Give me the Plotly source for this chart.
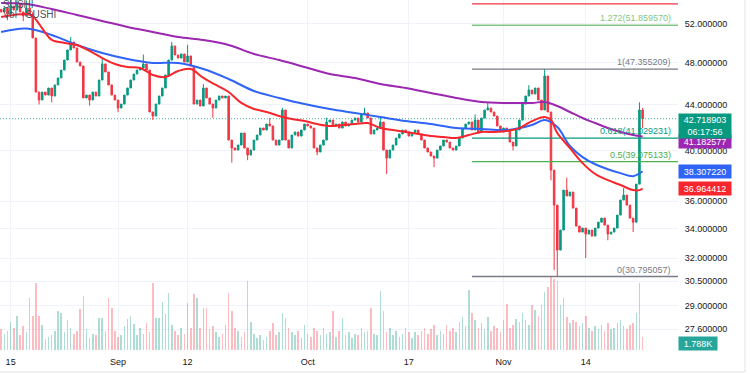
import math
import pandas as pd
import plotly.graph_objects as go

# ---------------- data ----------------
dates = pd.date_range("2022-08-13 12:00", periods=204, freq="12h")

closes = [
    53.31, 53.75, 53.09, 53.97, 53.53, 54.20, 53.31, 52.87, 53.75, 53.09,
    50.51, 45.15, 44.41, 45.15, 44.87, 45.53, 44.78, 45.82, 46.49, 47.26,
    48.25, 49.27, 50.09, 49.47, 48.05, 47.66, 44.60, 44.87, 44.41, 45.15,
    44.78, 46.29, 47.86, 47.07, 45.82, 44.87, 44.41, 43.68, 44.04, 44.87,
    45.53, 46.29, 46.87, 47.26, 47.46, 47.86, 47.26, 43.32, 42.96, 44.04,
    44.78, 45.53, 46.78, 48.25, 49.68, 48.76, 48.45, 48.86, 48.05, 48.66,
    47.66, 44.04, 44.41, 43.86, 45.53, 44.60, 44.04, 43.68, 44.41, 44.78,
    44.60, 44.78, 40.87, 40.20, 40.03, 40.45, 41.47, 40.20, 39.62, 40.03,
    40.87, 41.30, 41.90, 41.73, 42.25, 42.08, 40.87, 40.45, 40.87, 43.50,
    40.87, 40.20, 41.30, 41.56, 41.21, 41.73, 42.25, 42.08, 41.90, 40.20,
    39.87, 40.45, 40.87, 42.43, 42.60, 42.08, 42.25, 41.90, 42.43, 42.08,
    42.25, 42.60, 42.78, 42.43, 43.14, 43.23, 42.78, 41.39, 41.73, 41.90,
    42.43, 40.03, 39.37, 40.03, 40.45, 41.04, 41.39, 41.73, 41.56, 41.21,
    41.47, 41.73, 41.39, 40.87, 40.20, 39.87, 39.54, 39.37, 40.03, 40.37,
    40.87, 40.70, 40.20, 40.03, 40.37, 41.04, 41.90, 42.25, 42.43, 41.73,
    42.60, 41.56, 42.78, 43.50, 43.68, 43.32, 42.96, 42.08, 41.56, 41.90,
    41.73, 40.70, 40.37, 41.73, 42.60, 44.04, 44.78, 45.34, 44.97, 45.53,
    44.41, 43.50, 46.68, 43.32, 38.40, 35.71, 32.53, 33.91, 36.84, 36.39,
    36.69, 35.49, 34.19, 33.77, 34.05, 33.63, 33.91, 33.49, 34.05, 34.47,
    34.76, 34.26, 33.63, 33.77, 34.05, 34.98, 36.09, 36.46, 35.71, 34.76,
    34.47, 37.30, 43.50, 42.718903,
]
first_open = 53.60

high_wicks = {3: 54.9, 5: 55.0, 8: 54.6, 10: 53.3, 22: 50.6, 32: 48.5, 45: 48.8,
              54: 50.1, 59: 49.8, 64: 45.9, 85: 42.8, 89: 43.7, 103: 42.8,
              115: 43.7, 120: 42.8, 150: 43.1, 154: 44.2, 167: 45.8,
              172: 47.355209, 179: 37.8, 197: 37.0, 202: 44.2, 203: 43.68}
low_wicks = {2: 52.4, 7: 52.3, 12: 44.0, 16: 44.2, 28: 43.9, 37: 43.3, 48: 42.6,
             67: 42.8, 73: 39.0, 78: 39.2, 100: 39.6, 122: 38.08, 137: 38.64,
             162: 40.0, 174: 37.6, 175: 31.2, 176: 30.795057, 185: 32.0,
             192: 33.2, 200: 33.77, 203: 41.9}

volumes = [  # thousands
    2.8, 2.2, 2.6, 3.8, 3.0, 4.5, 2.0, 3.2, 2.4, 7.0,
    4.5, 9.0, 4.5, 3.3, 1.5, 1.8, 2.0, 2.6, 5.2, 5.0,
    2.4, 4.0, 3.0, 2.2, 2.6, 5.5, 7.3, 2.8, 1.6, 2.2,
    2.0, 4.3, 4.3, 2.5, 7.0, 5.6, 2.6, 1.8, 2.0, 3.2,
    4.2, 4.6, 3.5, 2.0, 3.0, 2.2, 3.6, 2.4, 9.0, 4.3,
    4.3, 6.5, 4.8, 7.6, 3.4, 2.6, 2.0, 3.0, 2.2, 6.3,
    3.0, 7.5, 7.0, 3.0, 5.6, 5.6, 2.8, 3.2, 2.4, 1.8,
    2.2, 3.4, 7.7, 5.2, 3.0, 2.6, 1.8, 2.4, 9.2, 3.8,
    2.2, 1.6, 2.0, 1.4, 1.8, 2.6, 3.6, 2.0, 2.4, 5.0,
    4.3, 3.0, 2.4, 2.0, 2.6, 1.6, 3.4, 2.2, 1.8, 3.0,
    2.6, 2.0, 3.0, 2.2, 2.4, 5.2, 1.8, 2.6, 4.3, 2.0,
    2.4, 1.6, 2.2, 2.0, 3.0, 2.4, 2.6, 5.6, 2.2, 2.0,
    7.9, 5.2, 2.4, 3.0, 2.0, 2.6, 1.8, 2.2, 3.0, 2.4,
    1.6, 2.4, 2.0, 2.6, 3.0, 2.2, 2.8, 3.4, 2.0, 2.6,
    2.2, 3.4, 2.6, 3.0, 2.4, 3.8, 4.4, 3.2, 8.0, 5.0,
    4.0, 3.0, 3.6, 2.8, 4.4, 2.6, 3.2, 3.0, 2.4, 4.0,
    6.2, 3.0, 3.4, 4.2, 3.8, 5.0, 4.0, 3.4, 6.0, 5.4,
    4.6, 6.0, 7.8, 8.4, 10.0, 9.6, 9.2, 6.0, 7.0, 4.4,
    3.6, 4.0, 3.8, 3.2, 3.6, 4.6, 3.0, 2.6, 3.2, 2.8,
    3.4, 2.6, 3.6, 2.8, 3.0, 3.6, 4.0, 3.2, 2.8, 3.4,
    3.6, 5.0, 9.0, 1.788,
]

# moving averages, read at sampled candles
ma_long_idx = [0, 8, 16, 24, 32, 40, 48, 56, 64, 72, 80, 88, 96, 104, 112, 120,
               128, 136, 144, 152, 160, 168, 172, 176, 180, 184, 188, 192, 196, 200, 203]
ma_purple = [54.32, 54.20, 53.63, 52.98, 52.33, 51.68, 51.15, 50.62, 50.30, 49.78,
             48.86, 48.25, 47.56, 46.87, 46.49, 45.91, 45.53, 45.06, 44.60, 44.23,
             44.14, 44.14, 44.23, 43.86, 43.32, 42.78, 42.34, 41.90, 41.56, 41.30, 41.182577]
ma_blue = [51.15, 51.52, 50.83, 49.78, 48.96, 48.35, 47.96, 47.96, 47.36, 46.39,
           45.25, 44.60, 44.04, 43.59, 43.23, 42.87, 42.51, 42.25, 41.90, 41.82,
           41.73, 42.16, 42.60, 41.99, 40.37, 39.45, 38.87, 38.47, 38.16, 37.92, 38.307220]
ma_red_idx = [0, 4, 8, 10, 12, 14, 16, 20, 24, 28, 32, 36, 40, 44, 48, 52, 56, 60,
              64, 68, 72, 76, 80, 84, 88, 92, 96, 100, 104, 108, 112, 116, 120, 124,
              128, 132, 136, 140, 144, 148, 152, 156, 160, 164, 168, 172, 174, 176,
              180, 184, 188, 192, 196, 200, 202, 203]
ma_red = [52.76, 52.98, 53.09, 52.87, 52.00, 51.05, 50.30, 49.99, 49.78, 49.17,
          48.45, 47.86, 47.56, 47.46, 46.78, 46.58, 47.17, 47.36, 46.49, 45.82,
          45.15, 44.14, 43.59, 43.32, 42.96, 42.69, 42.51, 42.25, 42.08, 42.16,
          42.25, 42.34, 41.90, 41.73, 41.56, 41.39, 41.21, 41.13, 41.04, 41.30,
          41.56, 41.56, 41.64, 41.90, 42.51, 42.87, 42.60, 41.47, 40.20, 38.96,
          38.09, 37.61, 37.23, 36.84, 36.84, 36.964412]

fib_levels = [0, 0.5, 0.618, 1, 1.272, 1.414]
fib_prices = [30.795057, 39.075133, 41.029231, 47.355209, 51.859570, 54.210000]
fib_colors = ["#787b86", "#4caf50", "#089981", "#787b86", "#81c784", "#f23645"]
fib_start = "2022-10-27 00:00"

last_price = 42.718903
countdown = "06:17:56"
last_volume_label = "1.788K"

price_ticks = [52, 48, 44, 40, 36, 34, 32, 30.5, 29, 27.6]
date_ticks = ["2022-08-15", "2022-09-01", "2022-09-12", "2022-10-01",
              "2022-10-17", "2022-11-01", "2022-11-14"]
date_labels = ["15", "Sep", "12", "Oct", "17", "Nov", "14"]

# ---------------- styling ----------------
GREEN = "#089981"
RED = "#f23645"
MA_RED = "#f7262d"
MA_BLUE = "#2f64f6"
MA_PURPLE = "#9c27b0"
X_RANGE = ["2022-08-13 07:40", "2022-11-28 14:24"]
Y_RANGE = [math.log10(26.44), math.log10(54.65)]

opens = [first_open] + closes[:-1]
highs = [max(o, c) for o, c in zip(opens, closes)]
lows = [min(o, c) for o, c in zip(opens, closes)]
for k, v in high_wicks.items():
    highs[k] = max(highs[k], v)
for k, v in low_wicks.items():
    lows[k] = min(lows[k], v)

vol_colors = ["rgba(8,153,129,0.33)" if c >= o else "rgba(242,54,69,0.33)"
              for o, c in zip(opens, closes)]

fig = go.Figure()

fig.add_trace(go.Bar(x=dates, y=volumes, marker_color=vol_colors,
                     marker_line_width=0, width=12 * 3600 * 1000 * 0.5,
                     yaxis="y", hoverinfo="skip"))

# current price dotted line
fig.add_trace(go.Scatter(x=X_RANGE, y=[last_price, last_price], mode="lines",
                         line=dict(color="rgba(8,153,129,0.75)", width=1, dash="1px,2px"),
                         yaxis="y2", hoverinfo="skip"))

# fib lines
for lvl, p, col in zip(fib_levels, fib_prices, fib_colors):
    fig.add_trace(go.Scatter(x=[fib_start, X_RANGE[1]], y=[p, p], mode="lines",
                             line=dict(color=col, width=1.3), yaxis="y2",
                             hoverinfo="skip"))

fig.add_trace(go.Candlestick(
    x=dates, open=opens, high=highs, low=lows, close=closes, yaxis="y2",
    increasing=dict(line=dict(color=GREEN, width=1), fillcolor=GREEN),
    decreasing=dict(line=dict(color=RED, width=1), fillcolor=RED),
    whiskerwidth=0, hoverinfo="skip"))

fig.add_trace(go.Scatter(x=[dates[i] for i in ma_long_idx], y=ma_purple, mode="lines",
                         line=dict(color=MA_PURPLE, width=2, shape="spline"), yaxis="y2"))
fig.add_trace(go.Scatter(x=[dates[i] for i in ma_long_idx], y=ma_blue, mode="lines",
                         line=dict(color=MA_BLUE, width=2, shape="spline"), yaxis="y2"))
fig.add_trace(go.Scatter(x=[dates[i] for i in ma_red_idx], y=ma_red, mode="lines",
                         line=dict(color=MA_RED, width=2, shape="spline"), yaxis="y2"))

annotations = []
# fib labels
for lvl, p, col in zip(fib_levels, fib_prices, fib_colors):
    if lvl == 1.414:
        continue
    annotations.append(dict(xref="paper", yref="y2", x=0.993, y=math.log10(p),
                            xanchor="right", yanchor="bottom", showarrow=False,
                            text=f"{lvl:g}({p:.6f})",
                            font=dict(size=9, color=col, family="Liberation Sans")))

def price_box(value, text, color, yshift=0, height=11, yanchor="middle"):
    return dict(xref="paper", yref="y2", x=1.0, y=math.log10(value), xanchor="left",
                yanchor=yanchor, yshift=yshift, showarrow=False, text=text,
                bgcolor=color, width=50, height=height, borderpad=1, align="center",
                font=dict(size=9, color="white", family="Liberation Sans"))

annotations.append(price_box(ma_purple[-1], f"{ma_purple[-1]:.6f}", MA_PURPLE, yshift=-5))
annotations.append(price_box(last_price, f"{last_price:.6f}<br>{countdown}", GREEN,
                             yshift=6, height=22, yanchor="top"))
annotations.append(price_box(ma_blue[-1], f"{ma_blue[-1]:.6f}", MA_BLUE))
annotations.append(price_box(ma_red[-1], f"{ma_red[-1]:.6f}", MA_RED))
annotations.append(dict(xref="paper", yref="paper", x=1.0, y=0.02, xanchor="left",
                        yanchor="middle", showarrow=False, text=last_volume_label,
                        bgcolor="#26a69a", width=36, height=11, borderpad=1,
                        font=dict(size=9, color="white", family="Liberation Sans")))
# legend text (top-left)
annotations.append(dict(xref="paper", yref="paper", x=0.002, y=1 - 5 / 350, xanchor="left",
                        yanchor="middle", showarrow=False, text="SUSHI",
                        font=dict(size=10, color="#50535e", family="Liberation Sans")))
annotations.append(dict(xref="paper", yref="paper", x=0.002, y=1 - 15 / 350, xanchor="left",
                        yanchor="middle", showarrow=False, text="Vol · SUSHI",
                        font=dict(size=10, color="#50535e", family="Liberation Sans")))

shapes = [
    dict(type="line", xref="paper", yref="paper", x0=745 / 678, x1=745 / 678,
         y0=-22 / 350, y1=1, line=dict(color="#e0e3eb", width=1)),
    dict(type="line", xref="paper", yref="paper", x0=0, x1=745 / 678,
         y0=-22 / 350, y1=-22 / 350, line=dict(color="#e0e3eb", width=1)),
]

fig.update_layout(
    width=750, height=375, margin=dict(l=0, r=72, t=0, b=25),
    plot_bgcolor="white", paper_bgcolor="white", showlegend=False,
    font=dict(family="Liberation Sans", size=9, color="#131722"),
    annotations=annotations, shapes=shapes, bargap=0, hovermode=False,
    xaxis=dict(type="date", range=X_RANGE, rangeslider=dict(visible=False),
               tickvals=date_ticks, ticktext=date_labels, showgrid=True,
               gridcolor="#f0f3fa", zeroline=False, showline=False,
               ticks="outside", ticklen=3, tickcolor="rgba(0,0,0,0)",
               tickfont=dict(size=9, color="#131722")),
    yaxis=dict(range=[0, 47], visible=False, showgrid=False, zeroline=False),
    yaxis2=dict(type="log", overlaying="y", side="right", range=Y_RANGE,
                tickvals=price_ticks, ticktext=[f"{v:.6f}" for v in price_ticks],
                showgrid=True, gridcolor="#f0f3fa", zeroline=False, showline=False,
                ticks="outside", ticklen=4, tickcolor="rgba(0,0,0,0)",
                tickfont=dict(size=9, color="#131722")),
)

fig.write_html("out.html", config={"displayModeBar": False},
               post_script="document.body.style.margin='0';document.body.style.overflow='hidden';")
